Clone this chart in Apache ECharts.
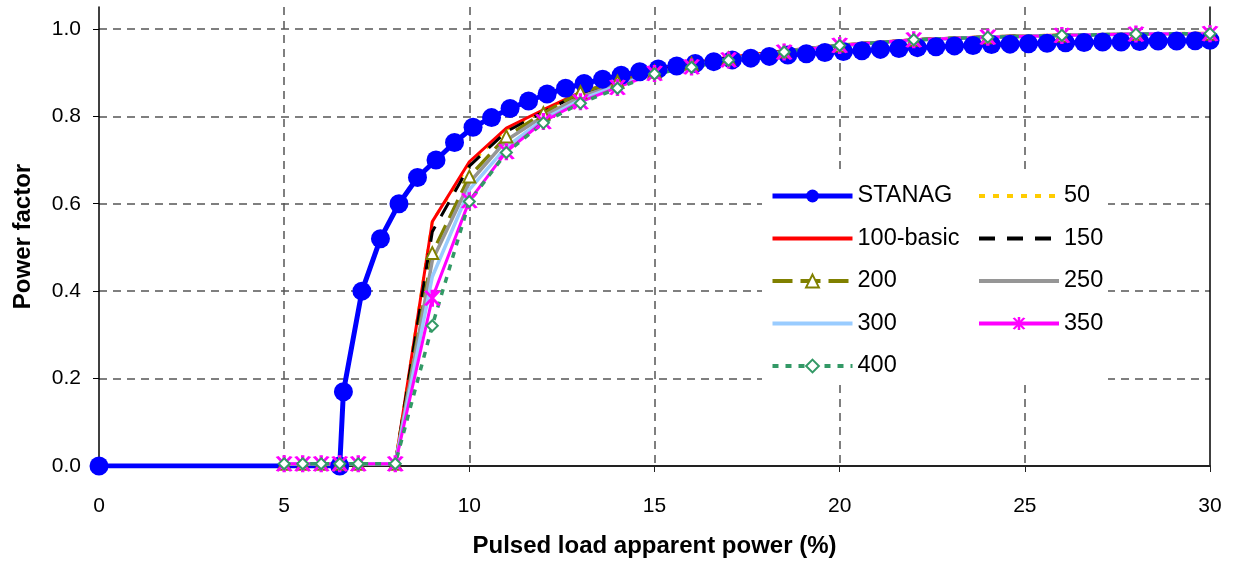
<!DOCTYPE html>
<html>
<head>
<meta charset="utf-8">
<script src="https://cdn.jsdelivr.net/npm/echarts@6/dist/echarts.min.js"></script>
<style>
  html, body { margin: 0; padding: 0; background: #fff; }
  #chart { width: 1236px; height: 563px; }
</style>
</head>
<body>
<div id="chart"></div>
<script>
// STANAG curve (x in %, y = power factor)
const stanagX = [0, 6.5, 6.6, 7.1, 7.6, 8.1, 8.6, 9.1, 9.6, 10.1, 10.6, 11.1, 11.6, 12.1, 12.6, 13.1, 13.6, 14.1, 14.6,
  15.1, 15.6, 16.1, 16.6, 17.1, 17.6, 18.1, 18.6, 19.1, 19.6, 20.1, 20.6, 21.1, 21.6, 22.1, 22.6, 23.1, 23.6,
  24.1, 24.6, 25.1, 25.6, 26.1, 26.6, 27.1, 27.6, 28.1, 28.6, 29.1, 29.6, 30];
const stanagY = [0, 0, 0.17, 0.40, 0.52, 0.60, 0.66, 0.70, 0.74, 0.775, 0.797, 0.818, 0.835, 0.851, 0.864, 0.875, 0.885, 0.894, 0.902,
  0.908, 0.915, 0.921, 0.925, 0.929, 0.933, 0.937, 0.940, 0.943, 0.946, 0.948, 0.950, 0.953, 0.955, 0.957, 0.959, 0.961, 0.962,
  0.964, 0.965, 0.966, 0.967, 0.968, 0.969, 0.970, 0.970, 0.971, 0.972, 0.972, 0.973, 0.974];

// pulsed load cases share the same x points
const loadX = [5, 5.5, 6, 6.5, 7, 8, 9, 10, 11, 12, 13, 14, 15, 16, 17, 18.5, 20, 22, 24, 26, 28, 30];
const pf50  = [0.005, 0.005, 0.005, 0.005, 0.005, 0.005, 0.560, 0.690, 0.770, 0.813, 0.853, 0.879, 0.903, 0.921, 0.934, 0.950, 0.963, 0.975, 0.982, 0.986, 0.989, 0.990];
const pf100 = [0.005, 0.005, 0.005, 0.005, 0.005, 0.005, 0.559, 0.696, 0.773, 0.815, 0.855, 0.880, 0.905, 0.922, 0.935, 0.950, 0.963, 0.975, 0.982, 0.986, 0.988, 0.990];
const pf150 = [0.005, 0.005, 0.005, 0.005, 0.005, 0.005, 0.536, 0.686, 0.765, 0.810, 0.852, 0.878, 0.902, 0.920, 0.933, 0.949, 0.963, 0.975, 0.982, 0.986, 0.988, 0.989];
const pf200 = [0.005, 0.005, 0.005, 0.005, 0.005, 0.005, 0.487, 0.662, 0.754, 0.807, 0.855, 0.879, 0.902, 0.920, 0.932, 0.948, 0.962, 0.975, 0.981, 0.985, 0.988, 0.989];
const pf250 = [0.005, 0.005, 0.005, 0.005, 0.005, 0.005, 0.470, 0.648, 0.745, 0.800, 0.845, 0.873, 0.900, 0.917, 0.931, 0.948, 0.962, 0.974, 0.981, 0.985, 0.988, 0.989];
const pf300 = [0.005, 0.005, 0.005, 0.005, 0.005, 0.005, 0.433, 0.632, 0.730, 0.793, 0.838, 0.870, 0.898, 0.915, 0.930, 0.947, 0.962, 0.974, 0.981, 0.985, 0.988, 0.989];
const pf350 = [0.005, 0.005, 0.005, 0.005, 0.005, 0.005, 0.384, 0.607, 0.719, 0.788, 0.833, 0.866, 0.898, 0.913, 0.929, 0.947, 0.962, 0.975, 0.981, 0.985, 0.988, 0.989];
const pf400 = [0.005, 0.005, 0.005, 0.005, 0.005, 0.005, 0.321, 0.605, 0.717, 0.785, 0.830, 0.864, 0.897, 0.912, 0.928, 0.947, 0.962, 0.975, 0.981, 0.985, 0.988, 0.989];

const yTicks = [0, 0.2, 0.4, 0.6, 0.8, 1.0];

const leftNames = ['STANAG', '100-basic', '200', '300', '400'];
const rightNames = ['50', '150', '250', '350'];
const noMarker = ['50', '100-basic', '150', '250', '300'];

const FONT = 'Liberation Sans, Arial, sans-serif';
const asterisk = 'path://M-0.6,-5L0.6,-5L0.6,5L-0.6,5Z' +
  'M1.98,-4.63L3.02,-4.03L-1.98,4.63L-3.02,4.03Z' +
  'M3.02,4.03L1.98,4.63L-3.02,-4.03L-1.98,-4.63Z';

function pairs(xs, ys) {
  return xs.map((x, i) => [x, ys[i]]);
}

function legendItems(names) {
  return names.map(n => {
    if (n === 'STANAG') return { name: n, lineStyle: { width: 5 } };
    if (noMarker.indexOf(n) >= 0) return { name: n, itemStyle: { opacity: 0 }, lineStyle: { width: 4 } };
    return { name: n, lineStyle: { width: 4 } };
  });
}

function loadSeries(name, ys, color, width, dash, symbol, size, border) {
  return {
    name: name,
    type: 'line',
    data: pairs(loadX, ys),
    symbol: symbol || 'none',
    symbolSize: size || 0,
    showSymbol: !!symbol,
    lineStyle: { color: color, width: width, type: dash || 'solid' },
    itemStyle: { color: color, borderColor: color, borderWidth: border == null ? 2 : border },
    emphasis: { disabled: true }
  };
}

let chart = echarts.init(document.getElementById('chart'));
let option = {
  animation: false,
  textStyle: { fontFamily: FONT },
  grid: { left: 99, right: 26, top: 7, bottom: 97 },
  xAxis: {
    type: 'value',
    min: 0, max: 30, interval: 5,
    name: 'Pulsed load apparent power (%)',
    nameLocation: 'middle',
    nameGap: 68,
    nameTextStyle: { fontSize: 24, fontWeight: 'bold', color: '#000', fontFamily: FONT },
    axisLine: { lineStyle: { color: '#222', width: 2 } },
    axisTick: { show: true, length: 6, lineStyle: { color: '#222' } },
    axisLabel: { fontSize: 21, color: '#000', margin: 30, fontFamily: FONT },
    splitLine: { show: true, showMinLine: false, showMaxLine: false,
      lineStyle: { color: '#555', type: [8, 6], width: 1.5 } }
  },
  yAxis: [{
    type: 'value',
    min: 0, max: 1.05, interval: 0.2,
    name: 'Power factor',
    nameLocation: 'middle',
    nameGap: 64,
    nameTextStyle: { fontSize: 24, fontWeight: 'bold', color: '#000', fontFamily: FONT },
    axisLine: { show: true, lineStyle: { color: '#000', width: 1.5 } },
    axisTick: { show: true, length: 6, lineStyle: { color: '#000' } },
    axisLabel: { fontSize: 21, color: '#000', margin: 18, showMaxLabel: false, fontFamily: FONT,
      formatter: v => yTicks.some(t => Math.abs(t - v) < 1e-6) ? v.toFixed(1) : '' },
    splitLine: { show: true, showMinLine: false, showMaxLine: false,
      lineStyle: { color: '#555', type: [8, 6], width: 1.5 } }
  }, {
    type: 'value',
    position: 'right',
    min: 0, max: 1.05,
    axisLine: { show: true, lineStyle: { color: '#000', width: 1.5 } },
    axisTick: { show: false },
    axisLabel: { show: false },
    splitLine: { show: false }
  }],
  legend: [{
    data: legendItems(leftNames),
    orient: 'vertical',
    left: 770, top: 184,
    itemWidth: 80, itemHeight: 16, itemGap: 18.5,
    padding: 0,
    textStyle: { fontSize: 23.5, color: '#000', fontFamily: FONT },
    selectedMode: false
  }, {
    data: legendItems(rightNames),
    orient: 'vertical',
    left: 977, top: 184,
    itemWidth: 80, itemHeight: 16, itemGap: 18.5,
    padding: 0,
    textStyle: { fontSize: 23.5, color: '#000', fontFamily: FONT },
    selectedMode: false
  }],
  graphic: {
    elements: [{
      type: 'rect', left: 762, top: 170, z: 3,
      shape: { width: 346, height: 214 },
      style: { fill: '#fff' }
    }]
  },
  series: [
    {
      name: 'STANAG',
      type: 'line',
      data: pairs(stanagX, stanagY),
      symbol: 'circle',
      symbolSize: 19,
      lineStyle: { color: '#0000FF', width: 5 },
      itemStyle: { color: '#0000FF' },
      emphasis: { disabled: true }
    },
    loadSeries('50', pf50, '#FFCC00', 3, [6, 8]),
    loadSeries('100-basic', pf100, '#FF0000', 3),
    loadSeries('150', pf150, '#000000', 3, [16, 12]),
    loadSeries('200', pf200, '#808000', 3.5, [20, 8], 'emptyTriangle', 12),
    loadSeries('250', pf250, '#969696', 3.5),
    loadSeries('300', pf300, '#99CCFF', 3.5),
    loadSeries('350', pf350, '#FF00FF', 3, 'solid', asterisk, [17, 17], 0),
    loadSeries('400', pf400, '#339966', 3.5, [6, 7], 'emptyDiamond', 11)
  ]
};
chart.setOption(option);
</script>
</body>
</html>
